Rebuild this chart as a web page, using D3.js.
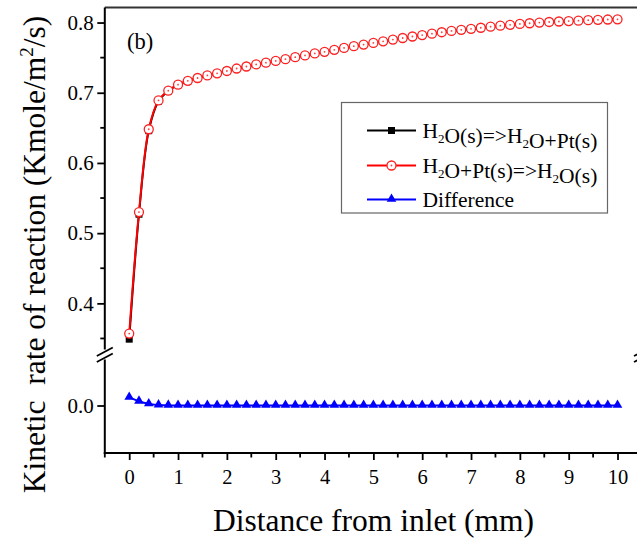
<!DOCTYPE html>
<html><head><meta charset="utf-8">
<script src="https://cdn.jsdelivr.net/npm/d3@7"></script>
<style>
html,body{margin:0;padding:0;background:#fff;}
svg{display:block;}
text{font-family:"Liberation Serif","Times New Roman",serif;fill:#000;}
</style></head>
<body><svg id="chart" width="637" height="539"></svg>
<script>
// ---- data ----
const distance = [0,0.2,0.4,0.6,0.8,1.0,1.2,1.4,1.6,1.8,2.0,2.2,2.4,2.6,2.8,3.0,3.2,3.4,3.6,3.8,4.0,4.2,4.4,4.6,4.8,5.0,5.2,5.4,5.6,5.8,6.0,6.2,6.4,6.6,6.8,7.0,7.2,7.4,7.6,7.8,8.0,8.2,8.4,8.6,8.8,9.0,9.2,9.4,9.6,9.8,10.0];
const forwardRate = [0.349,0.527,0.646,0.688,0.7025,0.7112,0.7167,0.7207,0.7245,0.7275,0.7309,0.7344,0.7373,0.7403,0.7428,0.7452,0.7477,0.7506,0.7531,0.7559,0.7582,0.7611,0.7637,0.7662,0.7685,0.7708,0.7732,0.7756,0.7779,0.7800,0.7821,0.7841,0.7861,0.7879,0.7895,0.7910,0.7925,0.7940,0.7954,0.7967,0.7979,0.7989,0.7999,0.8007,0.8014,0.8020,0.8026,0.8032,0.8037,0.8042,0.8045];
const reverseRate = [0.357,0.530,0.648,0.689,0.703,0.7115,0.717,0.721,0.7246,0.7276,0.7310,0.7345,0.7374,0.7404,0.7429,0.7453,0.7478,0.7507,0.7532,0.7560,0.7583,0.7612,0.7638,0.7663,0.7686,0.7709,0.7733,0.7757,0.7780,0.7801,0.7822,0.7842,0.7862,0.7880,0.7896,0.7911,0.7926,0.7941,0.7955,0.7968,0.7980,0.7990,0.8000,0.8008,0.8015,0.8021,0.8027,0.8033,0.8038,0.8043,0.8046];
const difference = [0.0085,0.0043,0.0015,0.0004,0.0001,0,0,0,0,0,0,0,0,0,0,0,0,0,0,0,0,0,0,0,0,0,0,0,0,0,0,0,0,0,0,0,0,0,0,0,0,0,0,0,0,0,0,0,0,0,0];
const xTicks = [0,1,2,3,4,5,6,7,8,9,10];
const yUpperTicks = [0.4,0.5,0.6,0.7,0.8];
const yLowerTicks = [0.0];
const seriesNames = ["H2O(s)=>H2O+Pt(s)","H2O+Pt(s)=>H2O(s)","Difference"];

(function(){
// ---- layout ----
const svg = d3.select("#chart");
const pL = 104.8, pR = 642, pT = 7.5, pB = 453;
const upperBottom = 352.5, lowerTop = 358;
const x = d3.scaleLinear().domain([-0.5, 10.5]).range([pL, pL + 11*48.83]);
const yU = d3.scaleLinear().domain([0.33, 0.82]).range([upperBottom, pT + 1]);
const yL = d3.scaleLinear().domain([-0.05, 0.05]).range([pB, lowerTop]);

const serif = '"Liberation Serif","Times New Roman",serif';

const defs = svg.append("defs");
defs.append("clipPath").attr("id","clipU").append("rect")
  .attr("x", pL).attr("y", pT).attr("width", pR-pL).attr("height", upperBottom-pT);
defs.append("clipPath").attr("id","clipL").append("rect")
  .attr("x", pL).attr("y", lowerTop).attr("width", pR-pL).attr("height", pB-lowerTop);

// ---- axes ----
const xAxis = d3.axisBottom(x).tickValues(xTicks).tickSize(7).tickSizeOuter(0).tickFormat(d3.format("d"));
const gx = svg.append("g").attr("transform", `translate(0,${pB})`).call(xAxis);
gx.select(".domain").remove();
gx.selectAll(".tick line").attr("stroke","#000").attr("stroke-width",1.8);
gx.selectAll(".tick text").style("font-family",serif).attr("font-size",20.5).attr("dy","0.9em").attr("y",12.5);
const xMinor = [-0.5,0.5,1.5,2.5,3.5,4.5,5.5,6.5,7.5,8.5,9.5,10.5];
svg.append("g").selectAll("line").data(xMinor).join("line")
  .attr("x1", d=>x(d)).attr("x2", d=>x(d)).attr("y1", pB).attr("y2", pB+4.5)
  .attr("stroke","#000").attr("stroke-width",1.8);

const yAxisU = d3.axisLeft(yU).tickValues(yUpperTicks).tickSize(7.5).tickFormat(d3.format(".1f"));
const gyU = svg.append("g").attr("transform", `translate(${pL},0)`).call(yAxisU);
gyU.select(".domain").remove();
const yAxisL = d3.axisLeft(yL).tickValues(yLowerTicks).tickSize(7.5).tickFormat(d3.format(".1f"));
const gyL = svg.append("g").attr("transform", `translate(${pL},0)`).call(yAxisL);
gyL.select(".domain").remove();
[gyU, gyL].forEach(g=>{
  g.selectAll(".tick line").attr("stroke","#000").attr("stroke-width",1.8);
  g.selectAll(".tick text").style("font-family",serif).attr("font-size",21).attr("x",-11);
});
const yMinorU = [0.35,0.45,0.55,0.65,0.75];
svg.append("g").selectAll("line").data(yMinorU).join("line")
  .attr("x1", pL-4.5).attr("x2", pL).attr("y1", d=>yU(d)).attr("y2", d=>yU(d))
  .attr("stroke","#000").attr("stroke-width",1.8);

const frame = svg.append("g").attr("stroke","#000").attr("stroke-width",2).attr("fill","none");
frame.append("line").attr("x1",pL-1).attr("x2",pR+5).attr("y1",pB).attr("y2",pB);
frame.append("line").attr("x1",pL).attr("x2",pR).attr("y1",pT).attr("y2",pT).attr("stroke","#333");
[pL, pR].forEach(ax=>{
  frame.append("line").attr("x1",ax).attr("x2",ax).attr("y1",pT).attr("y2",349.5);
  frame.append("line").attr("x1",ax).attr("x2",ax).attr("y1",359.5).attr("y2",pB+1);
  frame.append("line").attr("x1",ax-8).attr("x2",ax+8).attr("y1",356).attr("y2",347.5).attr("stroke-width",1.8);
  frame.append("line").attr("x1",ax-8).attr("x2",ax+8).attr("y1",362).attr("y2",353.5).attr("stroke-width",1.8);
});

// ---- series ----
const pts = (vals)=>distance.map((d,i)=>[d, vals[i]]);
const gU = svg.append("g").attr("clip-path","url(#clipU)");
const gL = svg.append("g").attr("clip-path","url(#clipL)");
const lineU = d3.line().x(d=>x(d[0])).y(d=>yU(d[1])).curve(d3.curveCatmullRom.alpha(0.5));
const lineL = d3.line().x(d=>x(d[0])).y(d=>yL(d[1])).curve(d3.curveLinear);

gU.append("path").attr("d", lineU(pts(forwardRate))).attr("fill","none").attr("stroke","#000").attr("stroke-width",2);
gU.append("g").selectAll("rect").data(pts(forwardRate)).join("rect")
  .attr("x", d=>x(d[0])-3.5).attr("y", d=>yU(d[1])-3.5).attr("width",7).attr("height",7).attr("fill","#000");
gU.append("path").attr("d", lineU(pts(reverseRate))).attr("fill","none").attr("stroke","#ff0000").attr("stroke-width",2);
const rg = gU.append("g").selectAll("g").data(pts(reverseRate)).join("g")
  .attr("transform", d=>`translate(${x(d[0])},${yU(d[1])})`);
rg.append("circle").attr("r",4.5).attr("fill","#fff").attr("stroke","#ff2020").attr("stroke-width",1.3);
rg.append("circle").attr("r",0.9).attr("fill","#ff4040");
gL.append("path").attr("d", lineL(pts(difference))).attr("fill","none").attr("stroke","#0000ff").attr("stroke-width",2);
const tri = d3.symbol().type(d3.symbolTriangle).size(40);
gL.append("g").selectAll("path").data(pts(difference)).join("path")
  .attr("d", tri).attr("transform", d=>`translate(${x(d[0])},${yL(d[1])-0.5})`).attr("fill","#0000ff");

svg.append("text").attr("x",127).attr("y",49).attr("font-size",22.5).text("(b)");

// ---- legend ----
const lg = svg.append("g");
lg.append("rect").attr("x",341.5).attr("y",102.5).attr("width",266).attr("height",110.5)
  .attr("fill","#fff").attr("stroke","#666").attr("stroke-width",1.2);
const rows = [130.5, 165.5, 199.5];
const colors = ["#000","#ff0000","#0000ff"];
rows.forEach((ry,i)=>{
  lg.append("line").attr("x1",367).attr("x2",416).attr("y1",ry).attr("y2",ry).attr("stroke",colors[i]).attr("stroke-width",2);
  if(i===0) lg.append("rect").attr("x",391.5-3.5).attr("y",ry-3.5).attr("width",7).attr("height",7).attr("fill","#000");
  if(i===1){ lg.append("circle").attr("cx",391.5).attr("cy",ry).attr("r",4.5).attr("fill","#fff").attr("stroke","#ff2020").attr("stroke-width",1.3);
             lg.append("circle").attr("cx",391.5).attr("cy",ry).attr("r",0.9).attr("fill","#ff4040"); }
  if(i===2) lg.append("path").attr("d",tri).attr("transform",`translate(391.5,${ry-0.5})`).attr("fill","#0000ff");
});
function chemText(t, xPos, yPos){
  const el = lg.append("text").attr("x",xPos).attr("y",yPos).attr("font-size",21.5);
  const parts = t.split(/(H2)/);
  parts.forEach(p=>{
    if(p==="H2"){
      el.append("tspan").text("H");
      el.append("tspan").attr("font-size",13).attr("dy",5).text("2");
      el.append("tspan").attr("dy",-5).text("");
    } else if(p.length) el.append("tspan").text(p);
  });
}
chemText(seriesNames[0], 422.5, rows[0]+7);
chemText(seriesNames[1], 422.5, rows[1]+7);
lg.append("text").attr("x",422.5).attr("y",rows[2]+7).attr("font-size",21.5).text(seriesNames[2]);

// ---- axis titles ----
svg.append("text").attr("x",373.5).attr("y",531).attr("text-anchor","middle").attr("font-size",31.5)
  .text("Distance from inlet (mm)");
const yt = svg.append("text").attr("transform","translate(45,254.5) rotate(-90)").attr("text-anchor","middle")
  .attr("font-size",31.5).style("white-space","pre");
yt.append("tspan").text("Kinetic  rate of reaction (Kmole/m");
yt.append("tspan").attr("font-size",19).attr("dy",-12).text("2");
yt.append("tspan").attr("dy",12).text("/s)");
})();
</script></body></html>
